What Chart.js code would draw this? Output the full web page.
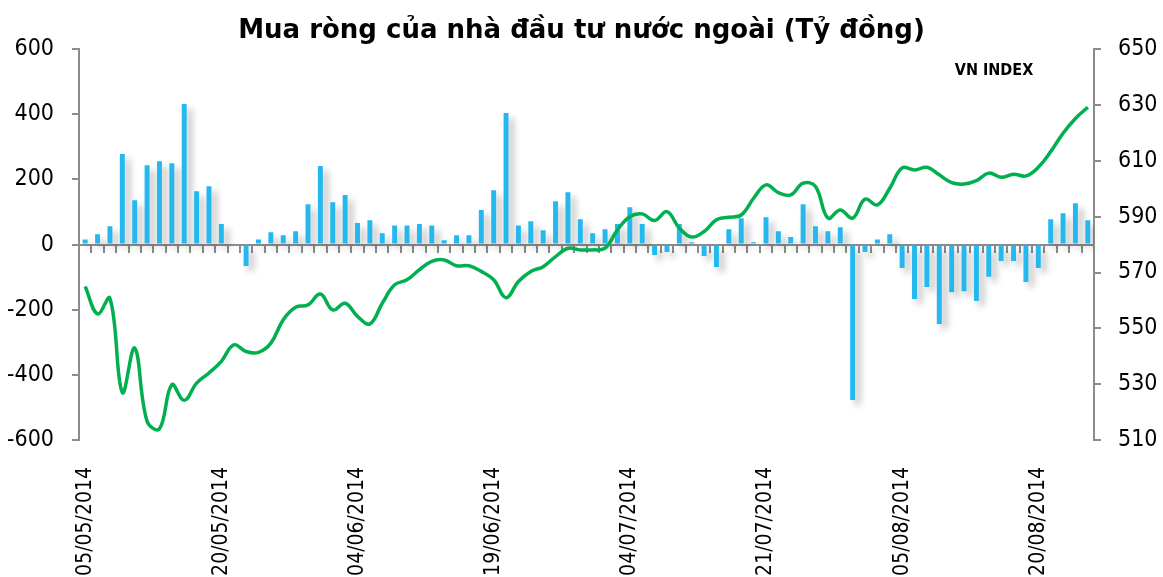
<!DOCTYPE html>
<html>
<head>
<meta charset="utf-8">
<script src="https://cdn.jsdelivr.net/npm/chart.js@4.4.1/dist/chart.umd.min.js"></script>
<style>
  html, body { margin: 0; padding: 0; background: #fff; }
  .chart-box { width: 1163px; height: 577px; position: relative; }
</style>
</head>
<body>
<div class="chart-box"><canvas id="chart"></canvas></div>
<script>
// trading days 05/05/2014 - 26/08/2014
const dates = [
  '05/05/2014', '06/05/2014', '07/05/2014', '08/05/2014', '09/05/2014', '12/05/2014', '13/05/2014', '14/05/2014', '15/05/2014', '16/05/2014',
  '19/05/2014', '20/05/2014', '21/05/2014', '22/05/2014', '23/05/2014', '26/05/2014', '27/05/2014', '28/05/2014', '29/05/2014', '30/05/2014',
  '02/06/2014', '03/06/2014', '04/06/2014', '05/06/2014', '06/06/2014', '09/06/2014', '10/06/2014', '11/06/2014', '12/06/2014', '13/06/2014',
  '16/06/2014', '17/06/2014', '18/06/2014', '19/06/2014', '20/06/2014', '23/06/2014', '24/06/2014', '25/06/2014', '26/06/2014', '27/06/2014',
  '30/06/2014', '01/07/2014', '02/07/2014', '03/07/2014', '04/07/2014', '07/07/2014', '08/07/2014', '09/07/2014', '10/07/2014', '11/07/2014',
  '14/07/2014', '15/07/2014', '16/07/2014', '17/07/2014', '18/07/2014', '21/07/2014', '22/07/2014', '23/07/2014', '24/07/2014', '25/07/2014',
  '28/07/2014', '29/07/2014', '30/07/2014', '31/07/2014', '01/08/2014', '04/08/2014', '05/08/2014', '06/08/2014', '07/08/2014', '08/08/2014',
  '11/08/2014', '12/08/2014', '13/08/2014', '14/08/2014', '15/08/2014', '18/08/2014', '19/08/2014', '20/08/2014', '21/08/2014', '22/08/2014',
  '25/08/2014', '26/08/2014'
];

// mua ròng (tỷ đồng)
const netBuy = [
  16, 32, 56, 278, 136, 244, 256, 250, 432, 164,
  179, 63, -2, -66, 16, 38, 29, 41, 124, 241,
  130, 152, 66, 75, 35, 59, 59, 63, 59, 13,
  29, 29, 106, 167, 404, 59, 72, 44, 133, 161,
  78, 35, 47, 63, 115, 63, -32, -23, 63, 7,
  -35, -69, 47, 81, 7, 84, 41, 23, 124, 56,
  41, 53, -477, -23, 16, 32, -72, -167, -130, -244,
  -146, -143, -173, -99, -50, -50, -115, -72, 78, 96,
  127, 75
];

// VN-Index
const vnIndex = [
  565.0, 555.2, 560.8, 527.0, 542.9, 516.7, 514.0, 529.8, 524.2, 530.4,
  534.0, 538.2, 544.1, 541.7, 541.4, 544.7, 553.1, 557.6, 558.4, 562.3,
  556.6, 559.0, 554.3, 551.6, 559.0, 565.6, 567.4, 571.0, 574.0, 574.5,
  572.4, 572.4, 570.4, 567.4, 561.0, 566.8, 570.4, 572.1, 575.7, 578.7,
  578.1, 578.1, 578.7, 585.3, 590.0, 591.0, 588.6, 591.8, 585.9, 582.7,
  584.7, 588.9, 589.8, 590.6, 596.6, 601.4, 598.6, 597.8, 602.0, 600.8,
  589.5, 592.4, 589.5, 596.3, 594.2, 600.2, 607.5, 606.7, 607.7, 605.0,
  602.2, 601.7, 602.9, 605.6, 604.1, 605.2, 604.6, 607.7, 613.3, 619.9,
  625.2, 629.2
];

const shownDates = ['05/05/2014', '20/05/2014', '04/06/2014', '19/06/2014', '04/07/2014', '21/07/2014', '05/08/2014', '20/08/2014'];
const netBuyTicks = [-600, -400, -200, 0, 200, 400, 600];
const indexTicks = [510, 530, 550, 570, 590, 610, 630, 650];

const FONT = "'DejaVu Sans Condensed', 'DejaVu Sans', sans-serif";
const TITLE_FONT = "'DejaVu Sans', sans-serif";
const axisGray = '#8c8c8c';

// bóng đổ cho cột
const barShadow = {
  id: 'barShadow',
  beforeDatasetDraw(chart, args) {
    if (args.index !== 0) return;
    const ctx = chart.ctx;
    ctx.save();
    ctx.shadowColor = 'rgba(0, 0, 0, 0.28)';
    ctx.shadowBlur = 7;
    ctx.shadowOffsetX = 5;
    ctx.shadowOffsetY = 5;
  },
  afterDatasetDraw(chart, args) {
    if (args.index !== 0) return;
    chart.ctx.restore();
  }
};

const indexLabel = {
  id: 'indexLabel',
  afterDraw(chart) {
    const { ctx, chartArea } = chart;
    ctx.save();
    ctx.font = 'bold 16px ' + FONT;
    ctx.fillStyle = '#000';
    ctx.textAlign = 'center';
    ctx.textBaseline = 'middle';
    ctx.fillText('VN INDEX', chartArea.right - 100, chartArea.top + 22);
    ctx.restore();
  }
};

new Chart(document.getElementById('chart'), {
  data: {
    labels: dates,
    datasets: [
      {
        type: 'bar',
        label: 'Mua ròng',
        data: netBuy,
        backgroundColor: '#25b8ef',
        barPercentage: 0.4,
        categoryPercentage: 1.0,
        xAxisID: 'x',
        yAxisID: 'y',
        order: 1
      },
      {
        type: 'line',
        label: 'VN INDEX',
        data: vnIndex,
        borderColor: '#00b04f',
        borderWidth: 3.5,
        pointRadius: 0,
        tension: 0.4,
        fill: false,
        xAxisID: 'x',
        yAxisID: 'y1',
        order: 0
      }
    ]
  },
  options: {
    responsive: true,
    maintainAspectRatio: false,
    animation: false,
    plugins: {
      legend: { display: false },
      tooltip: { enabled: false },
      title: {
        display: true,
        text: 'Mua ròng của nhà đầu tư nước ngoài (Tỷ đồng)',
        color: '#000',
        font: { family: TITLE_FONT, size: 26, weight: 'bold' },
        padding: { top: 16, bottom: 2 }
      }
    },
    scales: {
      x: {
        type: 'category',
        position: { y: 0 },
        offset: true,
        ticks: { display: false },
        grid: { display: true, drawOnChartArea: false, drawTicks: true, tickLength: 7, color: axisGray, lineWidth: 2, offset: true },
        border: { display: true, color: axisGray, width: 2 }
      },
      xLabels: {
        type: 'category',
        labels: dates,
        position: 'bottom',
        offset: true,
        grid: { display: false },
        border: { display: false },
        ticks: {
          autoSkip: false,
          minRotation: 90,
          maxRotation: 90,
          padding: 19,
          color: '#000',
          font: { family: FONT, size: 21 },
          callback: function (value, index) {
            const d = dates[index];
            return shownDates.includes(d) ? d : '';
          }
        },
        afterFit(scale) { scale.height = 137; }
      },
      y: {
        position: 'left',
        min: -600,
        max: 600,
        afterBuildTicks(scale) { scale.ticks = netBuyTicks.map(v => ({ value: v })); },
        grid: { drawOnChartArea: false, drawTicks: true, tickLength: 7, color: axisGray, lineWidth: 2 },
        border: { display: true, color: axisGray, width: 2 },
        ticks: { padding: 18, color: '#000', font: { family: FONT, size: 23 } },
        afterFit(scale) { scale.width = 79; }
      },
      y1: {
        position: 'right',
        min: 510,
        max: 650,
        afterBuildTicks(scale) { scale.ticks = indexTicks.map(v => ({ value: v })); },
        grid: { drawOnChartArea: false, drawTicks: true, tickLength: 7, color: axisGray, lineWidth: 2 },
        border: { display: true, color: axisGray, width: 2 },
        ticks: { padding: 17, color: '#000', font: { family: FONT, size: 23 } },
        afterFit(scale) { scale.width = 69; }
      }
    }
  },
  plugins: [barShadow, indexLabel]
});
</script>
</body>
</html>
